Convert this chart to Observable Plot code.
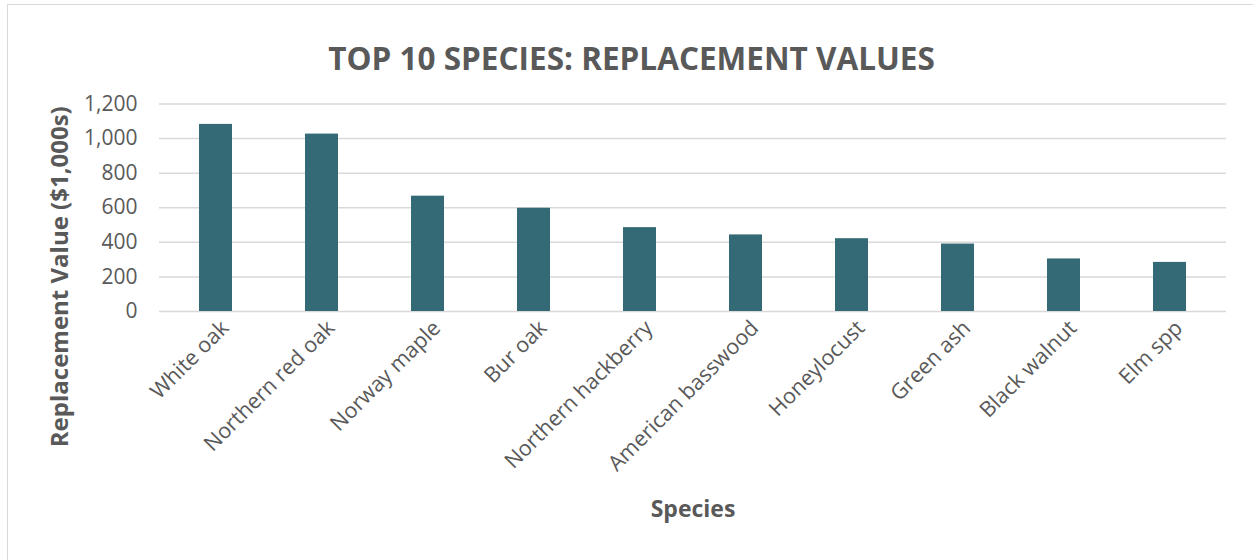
<!DOCTYPE html>
<html>
<head>
<meta charset="utf-8">
<script src="https://cdn.jsdelivr.net/npm/d3@7"></script>
<script src="https://cdn.jsdelivr.net/npm/@observablehq/plot@0.6"></script>
<style>
  html, body { margin: 0; padding: 0; background: #fff; overflow: hidden; }
  #wrap { position: relative; width: 1253px; height: 560px; }
  #frame { position: absolute; left: 7px; top: 4px; width: 1300px; height: 600px;
           border-left: 1.5px solid #d9d9d9; border-top: 1.5px solid #d9d9d9; }
  #chart { position: absolute; left: 0; top: 0; }
</style>
</head>
<body>
<div id="wrap"><div id="frame"></div><div id="chart"></div></div>
<script>
const species = ["White oak", "Northern red oak", "Norway maple", "Bur oak", "Northern hackberry",
                 "American basswood", "Honeylocust", "Green ash", "Black walnut", "Elm spp"];
const values = [1082, 1026, 667, 597, 485, 443, 421, 390, 304, 284];
const yTicks = [0, 200, 400, 600, 800, 1000, 1200];
const titleText = "TOP 10 SPECIES: REPLACEMENT VALUES";
const yLabel = "Replacement Value ($1,000s)";
const xLabel = "Species";

const data = species.map((s, i) => ({species: s, value: values[i]}));
const font = "'Open Sans', sans-serif";
const ink = "#595959";

const chart = Plot.plot({
  width: 1253,
  height: 560,
  marginTop: 103.5,
  marginBottom: 249,
  marginLeft: 159,
  marginRight: 27,
  style: {fontFamily: font, color: ink, background: "transparent"},
  x: {domain: species, paddingInner: 0.69, paddingOuter: 0.345, label: null},
  y: {domain: [0, 1200], label: null},
  marks: [
    Plot.gridY(yTicks, {stroke: "#d9d9d9", strokeOpacity: 1, strokeWidth: 1.5}),
    Plot.barY(data, {x: "species", y: "value", fill: "#336a75"}),
    Plot.axisY(yTicks, {tickSize: 0, tickPadding: 22, tickFormat: d3.format(","), fontSize: 21, fill: ink, label: null}),
    Plot.axisX({tickSize: 0, tickRotate: -45, tickPadding: 13, dx: 9, fontSize: 21.5, fill: ink, label: null}),
    Plot.text([titleText], {frameAnchor: "top-left", dx: 472, dy: -56, textAnchor: "middle",
      fontSize: 31.5, fontWeight: "bold", fill: ink}),
    Plot.text([yLabel], {frameAnchor: "left", dx: -99, dy: 69, rotate: -90, textAnchor: "middle",
      fontSize: 24, fontWeight: "bold", fill: ink}),
    Plot.text([xLabel], {frameAnchor: "bottom", dy: 205, textAnchor: "middle",
      fontSize: 23, fontWeight: "bold", fill: ink})
  ]
});
document.getElementById("chart").appendChild(chart);
</script>
</body>
</html>
